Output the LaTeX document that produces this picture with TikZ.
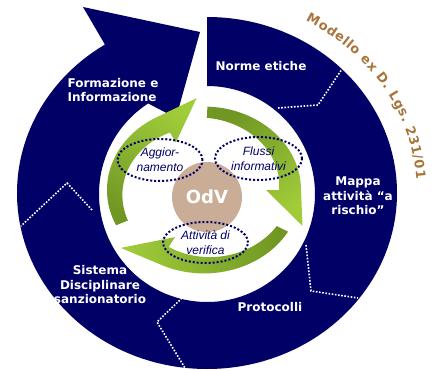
\documentclass[tikz,border=0pt]{standalone}
\usepackage{fontspec}
\newfontfamily\boxfont{DejaVu Sans}
\newfontfamily\ovalfont{Liberation Sans}
\usetikzlibrary{shapes.geometric,calc,decorations.text}
\definecolor{navy}{RGB}{0,0,102}
\definecolor{odvdark}{RGB}{112,150,35}
\definecolor{odvlight}{RGB}{160,204,58}
\definecolor{odvtan}{RGB}{201,173,150}
\definecolor{modbrown}{RGB}{168,118,60}

% green cycle arrow: #1 rotation, #2 shading angle
\newcommand{\cyclearrow}[2]{%
  \shade[rotate=#1, top color=odvlight, bottom color=odvdark, shading angle=#2]
    (88:84) -- (88:97) arc[start angle=88, end angle=0, radius=97]
    -- (-23:107) -- (0:62)
    -- plot[domain=0:88, variable=\t] (\t:{75+\t*9/88}) -- cycle;}

\begin{document}
\begin{tikzpicture}[x=1pt, y=1pt,
    segtext/.style={text=white, font=\boxfont\bfseries\fontsize{12}{14.5}\selectfont, align=center},
    ovaltext/.style={text=navy, font=\ovalfont\itshape\fontsize{12}{15}\selectfont, align=center},
    sep/.style={white, line width=1.6pt, dash pattern=on 1.6pt off 1.6pt},
    oval/.style={ellipse, draw=navy, line width=2pt, dash pattern=on 2pt off 2pt, inner sep=0pt}]
  \fill[white] (0,0) rectangle (436,370);
  \useasboundingbox (0,0) rectangle (436,370);

  % navy spiral with its head
  \fill[navy] ([shift={(207,177)}]90:190 and 176)
      arc[start angle=90, end angle=-237.5, x radius=190, y radius=176]
      -- (83,363) -- (200,338) -- (176,252)
      -- ([shift={(207,176)}]-237:108)
      arc[start angle=-237, end angle=90, radius=108] -- cycle;

  \draw[sep] (278,262) -- (318,265) -- (342,301);
  \draw[sep] (306,125) -- (311,79) -- (358,72);
  \draw[sep] (182,72) -- (157,48) -- (185,2);
  \draw[sep] (92,160) -- (67,187) -- (21,144);

  \node[segtext] (norme) at (261,304) {Norme etiche};
  \node[segtext, align=left] (formaz) at (113,280) {Formazione e\\Informazione};
  \node[segtext] (mappa) at (358,174) {Mappa\\attività “a\\rischio”};
  \node[segtext] (protoc) at (270,63) {Protocolli};
  \node[segtext] (sistema) at (100,85) {Sistema\\Disciplinare\\sanzionatorio};

  % green cycle
  \begin{scope}[shift={(204,180)}, yscale=0.86]
    \cyclearrow{0}{-145}
    \cyclearrow{117}{-28}
    \cyclearrow{-118}{97}
  \end{scope}

  \node[circle, fill=odvtan, minimum size=70pt, inner sep=0pt, text=white,
    font=\boxfont\bfseries\fontsize{18}{20}\selectfont] (odv) at (207,173) {OdV};

  \node[oval, ovaltext, minimum width=85pt, minimum height=42pt] (aggiorn) at (160,210) {Aggior-\\namento};
  \node[oval, ovaltext, minimum width=87pt, minimum height=43pt] (flussi) at (258.5,211.5) {Flussi\\informativi};
  \node[oval, ovaltext, minimum width=85pt, minimum height=41pt] (verifica) at (205.5,127.5) {Attività di\\verifica};

  \path[decorate, decoration={text along path, text align={fit to path},
      text={|\boxfont\bfseries\fontsize{13}{14}\selectfont\color{modbrown}|Modello ex D. Lgs. 231/01}}]
    ([shift={(207,177)}]62:210 and 195) arc[start angle=62, end angle=4, x radius=210, y radius=195];
\end{tikzpicture}
\end{document}
